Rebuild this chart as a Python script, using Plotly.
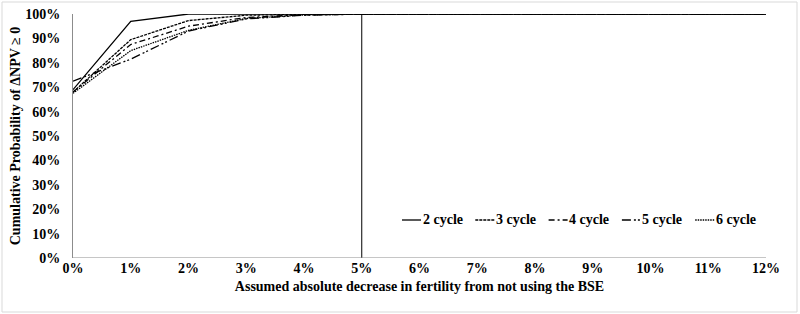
import plotly.graph_objects as go

x_vals = [0, 1, 2, 3, 4, 5, 6, 7, 8, 9, 10, 11, 12]
x_ticks = ["0%", "1%", "2%", "3%", "4%", "5%", "6%", "7%", "8%", "9%", "10%", "11%", "12%"]
cycle_2 = [69.0, 97.0, 100.0, 100.0, 100.0, 100.0, 100.0, 100.0, 100.0, 100.0, 100.0, 100.0, 100.0]
cycle_3 = [68.0, 89.5, 97.3, 99.5, 99.9, 100.0, 100.0, 100.0, 100.0, 100.0, 100.0, 100.0, 100.0]
cycle_4 = [68.0, 87.5, 95.0, 98.6, 99.7, 100.0, 100.0, 100.0, 100.0, 100.0, 100.0, 100.0, 100.0]
cycle_5 = [72.5, 81.5, 93.0, 98.0, 99.5, 100.0, 100.0, 100.0, 100.0, 100.0, 100.0, 100.0, 100.0]
cycle_6 = [67.5, 85.0, 93.3, 98.2, 99.6, 100.0, 100.0, 100.0, 100.0, 100.0, 100.0, 100.0, 100.0]
series_names = ["2 cycle", "3 cycle", "4 cycle", "5 cycle", "6 cycle"]
series_vals = [cycle_2, cycle_3, cycle_4, cycle_5, cycle_6]
dashes = ["solid", "3px,1px", "6px,3px,2px,3px", "9px,3px,2px,2px,2px,3px", "1.5px,1px"]
y_ticks = [0, 10, 20, 30, 40, 50, 60, 70, 80, 90, 100]
ref_x = 5

font_family = "Liberation Serif"
fs = 14

# layout geometry (pixels)
W, H = 800, 314
ML, MR, MT, MB = 73, 34, 14, 56
PW, PH = W - ML - MR, H - MT - MB

def px_x(p):
    return (p - ML) / PW

def px_y(p):
    return (H - MB - p) / PH

fig = go.Figure()
for name, vals, d in zip(series_names, series_vals, dashes):
    fig.add_trace(go.Scatter(
        x=x_vals, y=vals, mode="lines", name=name, showlegend=False,
        line=dict(color="black", width=1.3, dash=d),
    ))

fig.add_shape(type="line", xref="x", yref="y", x0=ref_x, x1=ref_x, y0=0, y1=100,
              line=dict(color="black", width=1))

# custom legend (short keys as in the original)
leg_x0, leg_step, key_len, leg_y = 402, 73.3, 19, 220
for i, (name, d) in enumerate(zip(series_names, dashes)):
    kx = leg_x0 + leg_step * i
    fig.add_shape(type="line", xref="paper", yref="paper",
                  x0=px_x(kx), x1=px_x(kx + key_len), y0=px_y(leg_y), y1=px_y(leg_y),
                  line=dict(color="black", width=1.3, dash=d))
    fig.add_annotation(xref="paper", yref="paper", x=px_x(kx + key_len + 0.5), y=px_y(leg_y),
                       text=f"<b>{name}</b>", showarrow=False, xanchor="left", yanchor="middle",
                       xshift=-1, font=dict(family=font_family, size=fs, color="black"))

fig.update_layout(
    width=W, height=H,
    margin=dict(l=ML, r=MR, t=MT, b=MB, autoexpand=False),
    paper_bgcolor="white", plot_bgcolor="white",
    font=dict(family=font_family, size=fs, color="black"),
    showlegend=False,
    xaxis=dict(
        range=[0, 12], tickmode="array", tickvals=x_vals, ticktext=x_ticks,
        showgrid=False, zeroline=False, showline=False,
        ticks="",
        tickfont=dict(family=font_family, size=fs, weight="bold"),
        title=dict(text="<b>Assumed absolute decrease in fertility from not using the BSE</b>",
                   font=dict(family=font_family, size=fs), standoff=6),
        automargin=False,
    ),
    yaxis=dict(
        range=[0, 100], tickmode="array", tickvals=y_ticks,
        ticktext=[f"{v}%" for v in y_ticks],
        showgrid=False, zeroline=False, showline=True, linecolor="#8c8c8c", linewidth=1,
        ticks="outside", ticklen=9, tickcolor="white",
        tickfont=dict(family=font_family, size=fs, weight="bold"),
        title=dict(text="<b>Cumulative Probability of ΔNPV ≥ 0</b>",
                   font=dict(family=font_family, size=fs), standoff=1),
        automargin=False,
    ),
)

fig.add_shape(type="line", xref="paper", yref="y", x0=0, x1=1, y0=0, y1=0,
              line=dict(color="#8c8c8c", width=1))
fig.add_shape(type="rect", xref="paper", yref="paper",
              x0=px_x(2), x1=px_x(797), y0=px_y(312), y1=px_y(2),
              line=dict(color="#d9d9d9", width=1))

fig.write_html("out.html")
